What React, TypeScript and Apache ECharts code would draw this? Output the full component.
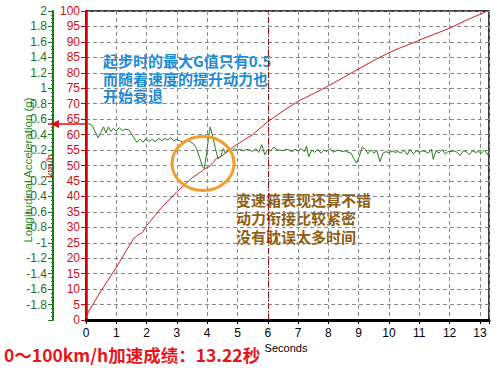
import React, { useEffect, useRef } from "react";
import * as echarts from "echarts";

// Speed (km/h) vs time (s)
const speedT = [0, 0.1, 0.5, 1.0, 1.3, 1.58, 1.72, 1.86, 2.0, 2.5, 3.0, 3.5, 3.83, 3.92, 4.05, 4.2, 4.31, 4.44, 4.6, 4.86, 5.2, 5.5, 6.0, 6.56, 7.0, 7.5, 8.0, 8.5, 9.0, 9.5, 10.0, 10.35, 10.9, 11.0, 11.5, 12.0, 12.5, 13.0, 13.25];
const speedV = [1, 3, 9.5, 17, 22, 26.5, 27.5, 28.3, 30.5, 36.5, 41.5, 46, 48.2, 49, 49.5, 51, 52.3, 52.8, 54, 56, 58.2, 60, 64.2, 68, 70.8, 73.2, 75.8, 78.5, 81.3, 84, 86.5, 88, 90.1, 90.6, 92.5, 94.4, 96.8, 98.9, 100];

// Longitudinal acceleration (g) vs time (s)
const accelT = [0, 0.1, 0.2, 0.3, 0.4, 0.5, 0.58, 0.66, 0.74, 0.82, 0.9, 1.0, 1.1, 1.2, 1.3, 1.42, 1.55, 1.68, 1.78, 1.88, 1.98, 2.08, 2.18, 2.28, 2.4, 2.5, 2.6, 2.7, 2.8, 2.9, 3.0, 3.1, 3.2, 3.3, 3.42, 3.55, 3.65, 3.75, 3.85, 3.9, 3.98, 4.05, 4.1, 4.18, 4.27, 4.36, 4.45, 4.53, 4.6, 4.7, 4.8, 4.9, 5.0, 5.1, 5.2, 5.3, 5.4, 5.5, 5.6, 5.7, 5.8, 5.9, 6.0, 6.1, 6.2, 6.3, 6.4, 6.5, 6.6, 6.7, 6.8, 6.9, 7.0, 7.1, 7.2, 7.28, 7.35, 7.45, 7.55, 7.65, 7.75, 7.85, 7.95, 8.05, 8.15, 8.25, 8.35, 8.45, 8.55, 8.65, 8.75, 8.85, 8.93, 9.02, 9.12, 9.22, 9.3, 9.4, 9.5, 9.6, 9.7, 9.8, 9.9, 10.0, 10.1, 10.2, 10.3, 10.4, 10.5, 10.6, 10.7, 10.8, 10.9, 11.0, 11.1, 11.2, 11.3, 11.4, 11.46, 11.55, 11.65, 11.75, 11.85, 11.95, 12.05, 12.15, 12.25, 12.35, 12.45, 12.55, 12.65, 12.75, 12.85, 12.95, 13.05, 13.15, 13.25, 13.3];
const accelV = [0.54, 0.54, 0.52, 0.44, 0.36, 0.44, 0.5, 0.42, 0.5, 0.44, 0.48, 0.45, 0.49, 0.45, 0.47, 0.46, 0.38, 0.3, 0.34, 0.3, 0.35, 0.31, 0.34, 0.31, 0.35, 0.32, 0.35, 0.33, 0.36, 0.32, 0.34, 0.32, 0.3, 0.33, 0.31, 0.28, 0.22, 0.1, -0.02, -0.04, 0.15, 0.38, 0.5, 0.38, 0.22, 0.09, 0.12, 0.22, 0.16, 0.2, 0.19, 0.22, 0.2, 0.21, 0.19, 0.21, 0.2, 0.18, 0.22, 0.17, 0.27, 0.14, 0.21, 0.19, 0.24, 0.2, 0.2, 0.19, 0.21, 0.2, 0.18, 0.21, 0.19, 0.22, 0.18, 0.25, 0.11, 0.2, 0.17, 0.21, 0.16, 0.2, 0.18, 0.22, 0.17, 0.19, 0.2, 0.18, 0.19, 0.17, 0.16, 0.08, 0.03, 0.12, 0.24, 0.21, 0.15, 0.2, 0.16, 0.19, 0.05, 0.16, 0.18, 0.16, 0.19, 0.17, 0.18, 0.16, 0.2, 0.14, 0.21, 0.15, 0.19, 0.17, 0.19, 0.18, 0.16, 0.21, 0.08, 0.19, 0.16, 0.21, 0.15, 0.18, 0.18, 0.19, 0.17, 0.13, 0.19, 0.18, 0.14, 0.19, 0.17, 0.18, 0.16, 0.2, 0.14, 0.18];

const xTicks = [0, 1, 2, 3, 4, 5, 6, 7, 8, 9, 10, 11, 12, 13];
const cursorTime = 6;

const titleText = "0～100km/h加速成绩：13.22秒";
const noteBlue = ["起步时的最大G值只有0.5", "而随着速度的提升动力也", "开始衰退"];
const noteBrown = ["变速箱表现还算不错", "动力衔接比较紧密", "没有耽误太多时间"];

const LATIN = "'Liberation Sans', Arial, sans-serif";
const CJK = "'Noto Sans CJK SC', sans-serif";

export default function App() {
  const ref = useRef<HTMLDivElement>(null);
  useEffect(() => {
    if (!ref.current) return;
    const chart = echarts.init(ref.current, undefined, { renderer: "svg" });
    const speedData = speedT.map((t, i) => [t, speedV[i]]);
    const accelData = accelT.map((t, i) => [t, accelV[i]]);
    const gridLine = { show: true, lineStyle: { color: "#8a8a8a", type: [4, 3] as any, width: 1 } };

    chart.setOption({
      animation: false,
      backgroundColor: "#ffffff",
      grid: { left: 86, right: 11, top: 11, bottom: 50, show: true, borderColor: "#000", borderWidth: 1.5, backgroundColor: "transparent" },
      xAxis: {
        type: "value", min: 0, max: 13.3, interval: 1,
        axisLine: { show: true, lineStyle: { color: "#000", width: 3 } },
        axisTick: { show: true, length: 4, lineStyle: { color: "#000" } },
        minorTick: { show: true, splitNumber: 5, length: 2, lineStyle: { color: "#000" } },
        axisLabel: {
          color: "#000", fontSize: 12, fontFamily: LATIN, margin: 7,
          formatter: (v: number) => (xTicks.indexOf(v) >= 0 ? String(v) : ""),
        },
        splitLine: gridLine,
      },
      yAxis: [
        {
          type: "value", min: 0, max: 100, interval: 5, position: "left",
          axisLine: { show: true, lineStyle: { color: "#cc0000", width: 2.5 } },
          axisTick: { show: true, length: 5, lineStyle: { color: "#cc0000" } },
          axisLabel: { color: "#cc1111", fontSize: 12, fontFamily: LATIN, margin: 6 },
          splitLine: gridLine,
        },
        {
          type: "value", min: -2, max: 2, interval: 0.2, position: "left", offset: 33,
          axisLine: { show: true, lineStyle: { color: "#1d7a1d", width: 2 } },
          axisTick: { show: true, length: 5, lineStyle: { color: "#1d7a1d" } },
          minorTick: { show: true, splitNumber: 4, length: 2, lineStyle: { color: "#1d7a1d" } },
          axisLabel: {
            color: "#1f6f1f", fontSize: 12, fontFamily: LATIN, margin: 6,
            formatter: (v: number) => {
              const r = Math.round(v * 10) / 10;
              if (r === -2) return "";
              return String(r === 0 ? 0 : r);
            },
          },
          splitLine: { show: false },
        },
      ],
      series: [
        {
          type: "line", xAxisIndex: 0, yAxisIndex: 1, data: accelData, showSymbol: false, z: 3,
          lineStyle: { color: "#2a7d22", width: 1 },
        },
        {
          type: "line", xAxisIndex: 0, yAxisIndex: 0, data: speedData, showSymbol: false, z: 4,
          lineStyle: { color: "#cc1f2a", width: 1 },
          markLine: {
            silent: true, symbol: ["none", "none"], label: { show: false },
            lineStyle: { color: "#9a0a0a", type: [6, 2, 1, 2] as any, width: 1 },
            data: [{ xAxis: cursorTime }],
          },
        },
      ],
      graphic: [
        { type: "ellipse", shape: { cx: 203, cy: 163.5, rx: 31, ry: 27 }, style: { fill: "none", stroke: "#f29d2a", lineWidth: 3 }, z: 10 },
        { type: "line", shape: { x1: 48, y1: 124, x2: 86, y2: 124 }, style: { stroke: "#dd1111", lineWidth: 1.5 }, z: 10 },
        { type: "polygon", shape: { points: [[50, 124], [59, 120], [59, 128]] }, style: { fill: "#dd1111" }, z: 10 },
        {
          type: "text", x: 28, y: 170, rotation: Math.PI / 2,
          style: { text: "Longitudinal Acceleration (g)", fill: "#2a8a2a", font: `11.5px ${LATIN}`, textAlign: "center", textVerticalAlign: "middle" },
        },
        {
          type: "text", x: 50, y: 166, rotation: Math.PI / 2,
          style: { text: "km/h", fill: "#cc1111", font: `11px ${LATIN}`, textAlign: "center", textVerticalAlign: "middle" },
        },
        {
          type: "text", x: 286, y: 348,
          style: { text: "Seconds", fill: "#000", font: `11px ${LATIN}`, textAlign: "center", textVerticalAlign: "middle" },
        },
        {
          type: "text", x: 4, y: 354,
          style: { text: titleText, fill: "#e8141a", font: `bold 17.5px ${CJK}`, textVerticalAlign: "middle" },
        },
        {
          type: "text", x: 103, y: 52,
          style: { text: noteBlue.join("\n"), fill: "#1d8ad6", font: `bold 15px ${CJK}`, lineHeight: 17.5, textVerticalAlign: "top" },
        },
        {
          type: "text", x: 236, y: 190,
          style: { text: noteBrown.join("\n"), fill: "#8f5d12", font: `bold 15px ${CJK}`, lineHeight: 18.5, textVerticalAlign: "top" },
        },
      ],
    });
    return () => chart.dispose();
  }, []);
  return (
    <div
      ref={ref}
      style={{ position: "fixed", left: 0, top: 0, width: 500, height: 370, background: "#fff" }}
    />
  );
}
